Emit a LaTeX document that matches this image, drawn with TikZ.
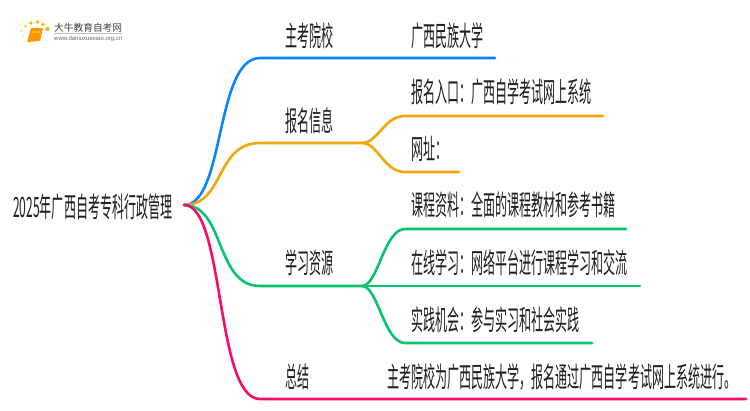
\documentclass[tikz,border=0pt]{standalone}
\usepackage{fontspec}
\setmainfont{Noto Sans CJK SC}[Scale=1]
\setsansfont{Liberation Sans}
\tikzset{
  x=1pt,y=-1pt,
  lbl/.style={anchor=west,inner sep=0pt,text=black!88},
  link/.style={line width=2.6pt,line cap=round},
  cblue/.style={draw={rgb,255:red,10;green,132;blue,255}},
  corange/.style={draw={rgb,255:red,245;green,166;blue,10}},
  cgreen/.style={draw={rgb,255:red,10;green,195;blue,110}},
  cpink/.style={draw={rgb,255:red,250;green,10;blue,105}},
}
\newcommand{\tx}[1]{\scalebox{0.43}[1]{\fontsize{28}{30}\selectfont #1}}
\begin{document}
\begin{tikzpicture}
\useasboundingbox (0,0) rectangle (750,410);
\fill[white] (0,0) rectangle (750,410);
\coordinate (root) at (184,205);
\coordinate (a) at (260,58);   \coordinate (ae) at (495,58);
\coordinate (b) at (260,143);  \coordinate (bj) at (362,143);
\coordinate (b1) at (405,116); \coordinate (b1e) at (603,116);
\coordinate (b2) at (405,172); \coordinate (b2e) at (459,172);
\coordinate (c) at (260,286);  \coordinate (cj) at (362,286);
\coordinate (c1) at (405,229); \coordinate (c1e) at (626,229);
\coordinate (c2) at (405,286); \coordinate (c2e) at (640,286);
\coordinate (c3) at (405,343); \coordinate (c3e) at (592,343);
\coordinate (d) at (260,399);  \coordinate (de) at (746,399);
\draw[link,cblue] (root) .. controls (225,205) and (215,58) .. (a) -- (ae);
\draw[link,corange] (root) .. controls (225,205) and (215,143) .. (b) -- (bj);
\draw[link,corange] (bj) .. controls (378,143) and (384,116) .. (b1) -- (b1e);
\draw[link,corange] (bj) .. controls (378,143) and (384,172) .. (b2) -- (b2e);
\draw[link,cgreen] (root) .. controls (225,205) and (215,286) .. (c) -- (cj);
\draw[link,cgreen] (cj) .. controls (378,286) and (384,229) .. (c1) -- (c1e);
\draw[link,cgreen] (cj) -- (c2e);
\draw[link,cgreen] (cj) .. controls (378,286) and (384,343) .. (c3) -- (c3e);
\draw[link,cpink] (root) .. controls (225,205) and (215,399) .. (d) -- (de);
\node[lbl] (root-t) at (13,207) {\tx{2025年广西自考专科行政管理}};
\node[lbl] (a-t) at (285,36) {\tx{主考院校}};
\node[lbl] (b-t) at (285,121) {\tx{报名信息}};
\node[lbl] (c-t) at (285,263) {\tx{学习资源}};
\node[lbl] (d-t) at (285,377) {\tx{总结}};
\node[lbl] (a1-t) at (411,36) {\tx{广西民族大学}};
\node[lbl] (b1-t) at (411,92) {\tx{报名入口：广西自学考试网上系统}};
\node[lbl] (b2-t) at (411,149) {\tx{网址：}};
\node[lbl] (c1-t) at (411,205) {\tx{课程资料：全面的课程教材和参考书籍}};
\node[lbl] (c2-t) at (411,263) {\tx{在线学习：网络平台进行课程学习和交流}};
\node[lbl] (c3-t) at (411,320) {\tx{实践机会：参与实习和社会实践}};
\node[lbl] (d1-t) at (387,377) {\tx{主考院校为广西民族大学，报名通过广西自学考试网上系统进行。}};
% logo
\fill[orange!60!yellow] (47.5,29) circle (2.2);
\fill[orange!60!yellow] (43,24.5) circle (1.9);
\fill[orange!60!yellow] (37.5,22) circle (1.9);
\fill[orange!60!yellow] (31,23) circle (1.8);
\fill[orange!50!yellow!80] (25.5,26) circle (1.5);
\fill[orange!40!yellow!60] (22,31) circle (1.2);
\fill[orange!40!yellow!50] (23.5,36) circle (1);
\fill[orange!30!yellow!40] (24,42) circle (.8);
\fill[orange!85!yellow,rounded corners=1pt] (31,28) -- (43,28) -- (40,41) -- (27,42) -- cycle;
\fill[yellow!60!orange] (33,31) -- (40,31) -- (39.5,33) -- (32.5,33) -- cycle;
\node[anchor=west,inner sep=0pt,text=black!75] (logo-a) at (54,27.5) {\fontsize{9.7}{10}\selectfont 大牛教育自考网};
\draw[black!25,line width=.5pt] (54,33) -- (122,33);
\node[anchor=west,inner sep=0pt,text=black!60] (logo-b) at (54,38.5) {\sffamily\fontsize{6}{7}\selectfont www.daniuxuexiao.org.cn};
\end{tikzpicture}
\end{document}
